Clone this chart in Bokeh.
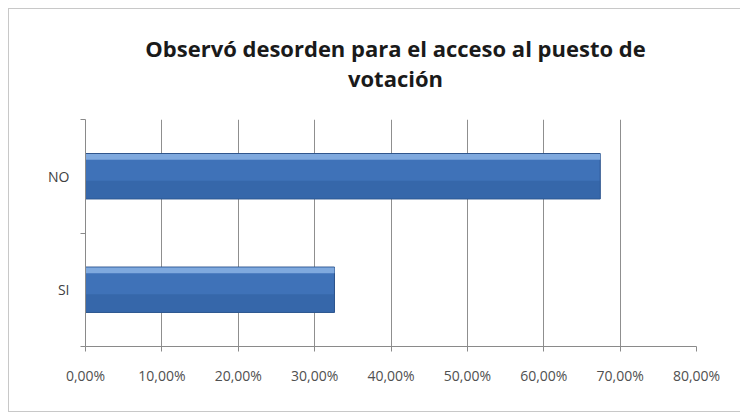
from bokeh.plotting import figure
from bokeh.models import Range1d, FixedTicker, Div
from bokeh.layouts import column
from bokeh.embed import file_html
from bokeh.resources import INLINE

# ---- data ----
categories = ["SI", "NO"]          # bottom to top
values = [0.326, 0.674]
x_ticks = [0.0, 0.1, 0.2, 0.3, 0.4, 0.5, 0.6, 0.7, 0.8]
x_tick_labels = ["0,00%", "10,00%", "20,00%", "30,00%", "40,00%",
                 "50,00%", "60,00%", "70,00%", "80,00%"]
title_lines = ["Observó desorden para el acceso al puesto de", "votación"]

ypos = [i + 0.5 for i in range(len(categories))]
bounds = [float(i) for i in range(len(categories) + 1)]

W = 724
BL, BR, BT, BB = 76, 37, 8, 65
title_html = (
    '<div style="width:{w}px;margin-left:{ml}px;text-align:center;'
    'font-family:\'Open Sans\';font-weight:bold;font-size:22px;'
    'line-height:30px;color:#1a1a1a;padding-top:19px;">{t}</div>'
).format(w=W - BL - BR, ml=BL, t="<br>".join(title_lines))
title_div = Div(text=title_html, width=W, height=92)

p = figure(width=W, height=300, output_backend="svg", toolbar_location=None,
           x_range=Range1d(0, 0.8), y_range=Range1d(0, len(categories)),
           min_border_left=BL, min_border_right=BR, min_border_top=BT,
           min_border_bottom=BB)
p.title = None
p.outline_line_color = None
p.background_fill_color = "white"

# bars: main body, darker lower part, top highlight
p.hbar(y=ypos, right=values, left=0, height=0.4, fill_color="#3f72b8",
       line_color="#2a5189", line_width=1)
p.hbar(y=[y - 0.12 for y in ypos], right=values, left=0, height=0.16,
       fill_color="#2f5f9f", line_color=None, fill_alpha=0.55)
p.hbar(y=[y + 0.17 for y in ypos], right=values, left=0, height=0.05,
       fill_color="#7fa9de", line_color=None)

# x axis
p.xaxis.ticker = FixedTicker(ticks=x_ticks)
p.xaxis.major_label_overrides = {t_: l for t_, l in zip(x_ticks, x_tick_labels)}
p.xaxis.axis_line_color = "#8a8a8a"
p.xaxis.major_tick_line_color = "#8a8a8a"
p.xaxis.major_tick_out = 5
p.xaxis.major_tick_in = 0
p.xaxis.minor_tick_line_color = None
p.xaxis.major_label_text_font = "Open Sans"
p.xaxis.major_label_text_font_size = "14px"
p.xaxis.major_label_text_color = "#505050"
p.xaxis.major_label_standoff = 14

# y axis
p.yaxis.ticker = FixedTicker(ticks=ypos, minor_ticks=bounds)
p.yaxis.major_label_overrides = {y: c for y, c in zip(ypos, categories)}
p.yaxis.axis_line_color = "#8a8a8a"
p.yaxis.major_tick_line_color = None
p.yaxis.minor_tick_line_color = "#8a8a8a"
p.yaxis.minor_tick_out = 5
p.yaxis.minor_tick_in = 0
p.yaxis.major_label_text_font = "Open Sans"
p.yaxis.major_label_text_font_size = "14px"
p.yaxis.major_label_text_color = "#404040"
p.yaxis.major_label_standoff = 10

# grid
p.xgrid.ticker = FixedTicker(ticks=x_ticks)
p.xgrid.grid_line_color = "#8f8f8f"
p.ygrid.grid_line_color = None

layout = column(title_div, p, spacing=0,
                styles={"margin-left": "8px", "margin-top": "8px",
                        "border": "1px solid #c8c8c8",
                        "background-color": "white"})

open("out.html", "w").write(file_html(layout, INLINE))
